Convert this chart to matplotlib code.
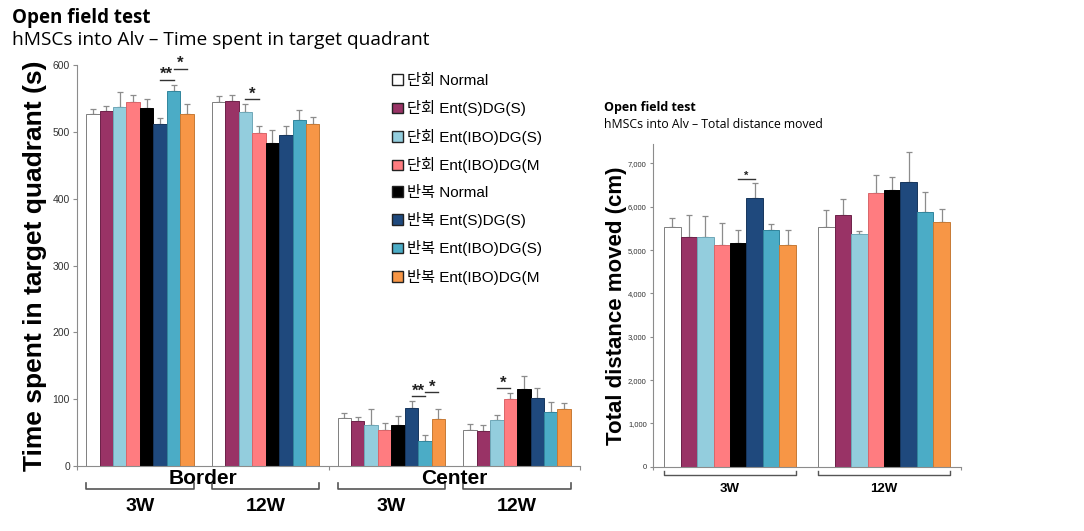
import matplotlib.pyplot as plt
import matplotlib.transforms as mtransforms
from matplotlib.patches import Patch
import numpy as np

plt.rcParams['font.family'] = ['Liberation Sans', 'Noto Sans CJK KR', 'DejaVu Sans']

# series labels and colours
labels = ['단회 Normal', '단회 Ent(S)DG(S)', '단회 Ent(IBO)DG(S)', '단회 Ent(IBO)DG(M',
          '반복 Normal', '반복 Ent(S)DG(S)', '반복 Ent(IBO)DG(S)', '반복 Ent(IBO)DG(M']
colors = ['#ffffff', '#993366', '#93cddd', '#ff7c80', '#000000', '#1f497d', '#4bacc6', '#f79646']
edges = ['#7f7f7f', '#6e2249', '#6fa8b8', '#d9666a', '#000000', '#17365d', '#31859c', '#c77a35']

# time spent in target quadrant (s)
regions = ['Border', 'Center']
weeks = ['3W', '12W']
border_3w = [526, 531, 537, 544, 536, 511, 561, 526]
border_3w_err = [8, 8, 22, 11, 13, 10, 9, 15]
border_12w = [544, 546, 530, 499, 483, 495, 517, 512]
border_12w_err = [9, 9, 11, 9, 19, 14, 15, 10]
center_3w = [72, 67, 62, 54, 62, 87, 37, 71]
center_3w_err = [8, 7, 24, 10, 13, 10, 9, 15]
center_12w = [54, 53, 69, 100, 115, 102, 81, 85]
center_12w_err = [9, 8, 8, 9, 20, 15, 15, 9]

# total distance moved (cm)
dist_3w = [5530, 5300, 5300, 5110, 5160, 6210, 5460, 5120]
dist_3w_err = [220, 520, 490, 520, 310, 330, 150, 340]
dist_12w = [5530, 5820, 5380, 6320, 6390, 6570, 5890, 5660]
dist_12w_err = [390, 350, 50, 420, 300, 690, 460, 280]

# significance marks: (group, bar a, bar b, text, level)
sig_left = [(0, 5, 6, '**', 0), (0, 6, 7, '*', 1), (1, 2, 3, '*', 0),
            (2, 5, 6, '**', 0), (2, 6, 7, '*', 1), (3, 2, 3, '*', 0)]
sig_right = [(0, 4, 5, '*', 0)]

W = 0.107
GRAY = '#8c8c8c'
TITLE_FONT = ['Open Sans', 'DejaVu Sans']


def draw_groups(ax, vals, errs):
    tops = []
    for g, (v, e) in enumerate(zip(vals, errs)):
        x = g + (np.arange(8) - 3.5) * W
        ax.bar(x, v, W, color=colors, edgecolor=edges, linewidth=0.7, zorder=2)
        ax.errorbar(x, v, yerr=[np.zeros(8), e], fmt='none', ecolor=GRAY,
                    elinewidth=0.9, capsize=2.2, capthick=0.9, zorder=1)
        tops.append(np.array(v) + np.array(e))
    return tops


def draw_sig(ax, tops, sigs, ymax, fs):
    for g, a, b, txt, lvl in sigs:
        xa = g + (a - 3.5) * W
        xb = g + (b - 3.5) * W
        y = max(tops[g][a], tops[g][b]) + 0.013 * ymax + lvl * 0.028 * ymax
        ax.plot([xa, xb], [y, y], color='#333333', lw=1.0, clip_on=False)
        ax.text((xa + xb) / 2, y - 0.006 * ymax, txt, ha='center', va='bottom',
                fontsize=fs, fontweight='bold', color='#222222')


def brackets(ax, ngroups, y_line, y_end, y_lab, fs, lw):
    trans = mtransforms.blended_transform_factory(ax.transData, ax.transAxes)
    for g in range(ngroups):
        x0 = g - 4 * W
        x1 = g + 4 * W
        ax.plot([x0, x0, x1, x1], [y_end, y_line, y_line, y_end], transform=trans,
                color='#555555', lw=lw, clip_on=False)
        ax.text(g, y_lab, weeks[g % 2], transform=trans, ha='center', va='center',
                fontsize=fs, fontweight='bold')


fig = plt.figure(figsize=(10.84, 5.31), dpi=100)

# ---- left chart
ax1 = fig.add_axes([77 / 1084, 1 - 466 / 531, 503 / 1084, 401 / 531])
ymax1 = 600
tops1 = draw_groups(ax1, [border_3w, border_12w, center_3w, center_12w],
                    [border_3w_err, border_12w_err, center_3w_err, center_12w_err])
draw_sig(ax1, tops1, sig_left, ymax1, 12)
ax1.set_xlim(-0.5, 3.5)
ax1.set_ylim(0, ymax1)
ax1.set_yticks(range(0, 601, 100))
ax1.set_xticks([-0.5, 1.5, 3.5])
ax1.set_xticklabels([])
ax1.tick_params(axis='both', length=3, color=GRAY, labelsize=7.5, labelcolor='#333333', pad=2)
for s in ['top', 'right']:
    ax1.spines[s].set_visible(False)
for s in ['left', 'bottom']:
    ax1.spines[s].set_color(GRAY)
ax1.set_ylabel('Time spent in target quadrant (s)', fontsize=19, fontweight='bold', labelpad=4)
brackets(ax1, 4, -0.058, -0.043, -0.102, 14, 1.2)
trans1 = mtransforms.blended_transform_factory(ax1.transData, ax1.transAxes)
for r, name in enumerate(regions):
    ax1.text(2 * r + 0.5, -0.03, name, transform=trans1, ha='center', va='center',
             fontsize=15, fontweight='bold')

handles = [Patch(facecolor=c, edgecolor='#222222', linewidth=1.0) for c in colors]
fig.legend(handles, labels, loc='upper left', bbox_to_anchor=(386 / 1084, 1 - 68 / 531),
           frameon=False, fontsize=11, handlelength=0.7, handleheight=0.7,
           handletextpad=0.25, labelspacing=0.81, borderaxespad=0)

# ---- right chart
ax2 = fig.add_axes([653 / 1084, 1 - 466.7 / 531, 308 / 1084, 322.7 / 531])
ymax2 = 7450
tops2 = draw_groups(ax2, [dist_3w, dist_12w], [dist_3w_err, dist_12w_err])
draw_sig(ax2, tops2, sig_right, ymax2, 8)
ax2.set_xlim(-0.5, 1.5)
ax2.set_ylim(0, ymax2)
ax2.set_yticks(range(0, 7001, 1000))
ax2.set_yticklabels([f'{v:,}' for v in range(0, 7001, 1000)])
ax2.set_xticks([-0.5, 1.5])
ax2.set_xticklabels([])
ax2.tick_params(axis='both', length=2.5, color=GRAY, labelsize=5.5, labelcolor='#333333', pad=2)
for s in ['top', 'right']:
    ax2.spines[s].set_visible(False)
for s in ['left', 'bottom']:
    ax2.spines[s].set_color(GRAY)
ax2.set_ylabel('Total distance moved (cm)', fontsize=16, fontweight='bold', labelpad=0.5)
brackets(ax2, 2, -0.026, -0.013, -0.07, 9.5, 1.0)

# ---- titles
fig.text(12 / 1084, 1 - 18 / 531, 'Open field test', fontsize=13.5, fontweight='bold',
         va='center', family=TITLE_FONT)
fig.text(12 / 1084, 1 - 40 / 531, 'hMSCs into Alv \u2013 Time spent in target quadrant',
         fontsize=13.8, va='center', family=TITLE_FONT)
fig.text(604 / 1084, 1 - 107 / 531, 'Open field test', fontsize=9, fontweight='bold',
         va='center', family=TITLE_FONT)
fig.text(604 / 1084, 1 - 124 / 531, 'hMSCs into Alv \u2013 Total distance moved',
         fontsize=8.8, va='center', family=TITLE_FONT)

fig.savefig('out.png', dpi=100)
